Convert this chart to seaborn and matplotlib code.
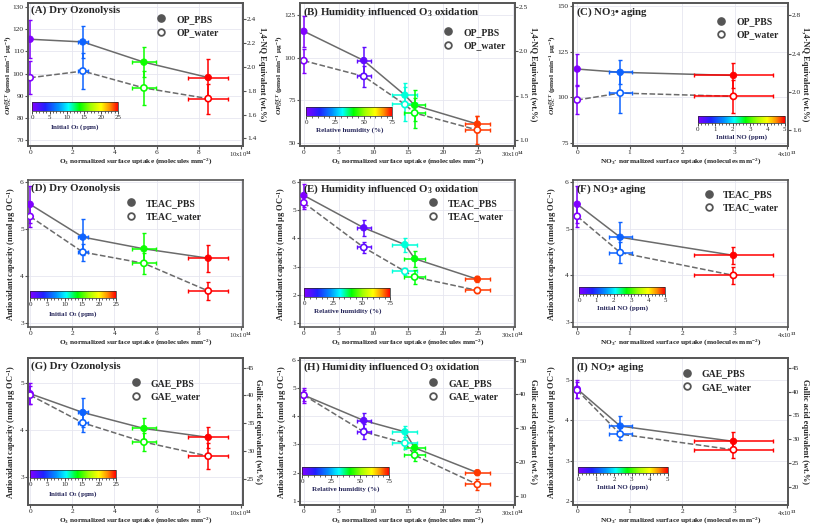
import numpy as np
import matplotlib
matplotlib.use('Agg')
import matplotlib.pyplot as plt
import seaborn as sns
from matplotlib.colors import LinearSegmentedColormap, Normalize
from matplotlib.cm import ScalarMappable
from matplotlib.lines import Line2D
from matplotlib.transforms import blended_transform_factory

sns.set_theme(style='ticks')
plt.rcParams['font.family'] = ['Liberation Serif', 'DejaVu Serif']
plt.rcParams['mathtext.fontset'] = 'custom'
plt.rcParams['mathtext.rm'] = 'Liberation Serif:bold'
plt.rcParams['mathtext.it'] = 'Liberation Serif:italic:bold'
plt.rcParams['mathtext.bf'] = 'Liberation Serif:bold'

# ---- data ----
# x: normalized surface uptake, xerr, colour value (initial O3 / RH / NO)
x_o3 = [0, 2.5, 5.4, 8.45]
xerr_o3 = [0, 0.25, 0.55, 0.95]
c_o3 = [0, 6, 14, 25]

x_rh = [0, 8.6, 14.5, 15.9, 24.9]
xerr_rh = [0, 1.0, 1.8, 1.5, 1.8]
c_rh = [0, 4, 33, 41, 72]

x_no3 = [0, 0.82, 2.98]
xerr_no3 = [0, 0.22, 0.75]
c_no = [0, 1.2, 5]

# OP DTT
op_pbs_a = [115.5, 114.3, 105.2, 98.3]
op_pbs_a_err = [8.6, 7.3, 6.6, 8.1]
op_wat_a = [98.2, 101.2, 93.6, 88.8]
op_wat_a_err = [7.3, 7.9, 7.6, 6.8]

op_pbs_b = [115.5, 98.3, 78.0, 72.0, 61.0]
op_pbs_b_err = [9.0, 8.0, 7.0, 9.0, 4.5]
op_wat_b = [98.2, 89.0, 72.5, 67.5, 57.5]
op_wat_b_err = [7.0, 6.0, 10.0, 9.0, 8.0]

op_pbs_c = [115.5, 113.7, 112.0]
op_pbs_c_err = [8.5, 6.5, 7.0]
op_wat_c = [98.5, 102.3, 100.5]
op_wat_c_err = [7.5, 11.0, 9.0]

# TEAC
teac_pbs_d = [5.53, 4.83, 4.58, 4.38]
teac_pbs_d_err = [0.40, 0.38, 0.33, 0.29]
teac_wat_d = [5.27, 4.51, 4.27, 3.68]
teac_wat_d_err = [0.22, 0.18, 0.22, 0.19]

teac_pbs_e = [5.53, 4.38, 3.78, 3.28, 2.55]
teac_pbs_e_err = [0.40, 0.28, 0.25, 0.28, 0.10]
teac_wat_e = [5.27, 3.68, 2.83, 2.63, 2.15]
teac_wat_e_err = [0.22, 0.18, 0.12, 0.24, 0.10]

teac_pbs_f = [5.53, 4.82, 4.43]
teac_pbs_f_err = [0.40, 0.33, 0.19]
teac_wat_f = [5.27, 4.49, 4.00]
teac_wat_f_err = [0.22, 0.22, 0.18]

# GAE
gae_pbs_g = [4.78, 4.38, 4.04, 3.85]
gae_pbs_g_err = [0.23, 0.30, 0.22, 0.23]
gae_wat_g = [4.75, 4.16, 3.75, 3.45]
gae_wat_g_err = [0.20, 0.20, 0.20, 0.28]

gae_pbs_h = [4.75, 3.85, 3.45, 2.88, 2.00]
gae_pbs_h_err = [0.27, 0.25, 0.20, 0.15, 0.08]
gae_wat_h = [4.75, 3.45, 3.05, 2.62, 1.58]
gae_wat_h_err = [0.20, 0.27, 0.20, 0.22, 0.20]

gae_pbs_i = [4.78, 3.86, 3.48]
gae_pbs_i_err = [0.23, 0.25, 0.23]
gae_wat_i = [4.75, 3.66, 3.27]
gae_wat_i_err = [0.20, 0.15, 0.20]

cmap = LinearSegmentedColormap.from_list('origin_rainbow', [
    (0.0, '#8000ff'), (0.15, '#2020ff'), (0.3, '#0090ff'), (0.42, '#00ffff'),
    (0.55, '#00ff00'), (0.68, '#a0ff00'), (0.8, '#ffff00'), (0.9, '#ff9000'),
    (1.0, '#ff0000')])

FW, FH = 813, 527
fig = plt.figure(figsize=(FW / 100, FH / 100), dpi=100)

col_left = [28, 300, 573]
row_tb = [(3, 146), (180, 327), (358, 505)]
AXW = 215

LINE_C = '#6b6b6b'
FRAME_C = '#555555'

# x-axis setup per column
xcfg = [
    dict(x=x_o3, xerr=xerr_o3, c=c_o3, norm=Normalize(0, 25), xlim=(-0.1, 10.1),
         xticks=[0, 2, 4, 6, 8, 10], exp=14, cticks=[0, 5, 10, 15, 20, 25],
         clabel='Initial O$_3$ (ppm)',
         xlabel='O$_3$ normalized surface uptake (molecules mm$^{-2}$)'),
    dict(x=x_rh, xerr=xerr_rh, c=c_rh, norm=Normalize(0, 75), xlim=(-0.55, 30.3),
         xticks=[0, 5, 10, 15, 20, 25, 30], exp=14, cticks=[0, 25, 50, 75],
         clabel='Relative humidity (%)',
         xlabel='O$_3$ normalized surface uptake (molecules mm$^{-2}$)'),
    dict(x=x_no3, xerr=xerr_no3, c=c_no, norm=Normalize(0, 5), xlim=(-0.08, 4.02),
         xticks=[0, 1, 2, 3, 4], exp=13, cticks=[0, 1, 2, 3, 4, 5],
         clabel='Initial NO (ppm)',
         xlabel='NO$_3$· normalized surface uptake (molecules mm$^{-2}$)'),
]

op_label = r'$\mathit{OP}_{\mathit{OC}}^{\mathit{DTT}}$ (pmol min$^{-1}$ μg$^{-1}$)'
ao_label = 'Antioxidant capacity (nmol μg OC$^{-1}$)'
nq_label = '1,4-NQ Equivalent (wt.%)'
ga_label = 'Gallic acid equivalent (wt.%)'

panels = [
    # row 0
    dict(r=0, c=0, title='(A) Dry Ozonolysis', pbs=op_pbs_a, pe=op_pbs_a_err, wat=op_wat_a, we=op_wat_a_err,
         names=('OP_PBS', 'OP_water'), ylim=(67.5, 131.8), yticks=[70, 80, 90, 100, 110, 120, 130],
         ylabel=op_label, ylx=-0.066, ylfs=5.3,
         r_ylim=(1.336, 2.536), r_ticks=[1.4, 1.6, 1.8, 2.0, 2.2, 2.4], r_label=nq_label, rlx=1.07,
         leg=(0.62, 0.875), cb=[0.02, 0.243, 0.40, 0.063]),
    dict(r=0, c=1, title='(B) Humidity influenced O$_3$ oxidation', pbs=op_pbs_b, pe=op_pbs_b_err, wat=op_wat_b, we=op_wat_b_err,
         names=('OP_PBS', 'OP_water'), ylim=(48.1, 132.1), yticks=[50, 75, 100, 125],
         ylabel=op_label, ylx=-0.07, ylfs=5.3,
         r_ylim=(0.9375, 2.544), r_ticks=[1.0, 1.5, 2.0, 2.5], r_label=nq_label, rlx=1.065,
         leg=(0.69, 0.785), cb=[0.03, 0.21, 0.40, 0.06]),
    dict(r=0, c=2, title='(C) NO$_3$• aging', pbs=op_pbs_c, pe=op_pbs_c_err, wat=op_wat_c, we=op_wat_c_err,
         names=('OP_PBS', 'OP_water'), ylim=(73.2, 151.8), yticks=[75, 100, 125, 150],
         ylabel=op_label, ylx=-0.07, ylfs=5.3,
         r_ylim=(1.43, 2.93), r_ticks=[1.6, 2.0, 2.4, 2.8], r_label=nq_label, rlx=1.06,
         leg=(0.69, 0.86), cb=[0.58, 0.16, 0.405, 0.05]),
    # row 1
    dict(r=1, c=0, title='(D) Dry Ozonolysis', pbs=teac_pbs_d, pe=teac_pbs_d_err, wat=teac_wat_d, we=teac_wat_d_err,
         names=('TEAC_PBS', 'TEAC_water'), ylim=(2.91, 6.05), yticks=[3, 4, 5, 6],
         ylabel=ao_label, ylx=-0.045, ylfs=6.0,
         leg=(0.48, 0.83), cb=[0.01, 0.197, 0.40, 0.048]),
    dict(r=1, c=1, title='(E) Humidity influenced O$_3$ oxidation', pbs=teac_pbs_e, pe=teac_pbs_e_err, wat=teac_wat_e, we=teac_wat_e_err,
         names=('TEAC_PBS', 'TEAC_water'), ylim=(0.85, 6.08), yticks=[1, 2, 3, 4, 5, 6],
         ylabel=ao_label, ylx=-0.058, ylfs=6.0,
         leg=(0.62, 0.83), cb=[0.02, 0.204, 0.40, 0.06]),
    dict(r=1, c=2, title='(F) NO$_3$• aging', pbs=teac_pbs_f, pe=teac_pbs_f_err, wat=teac_wat_f, we=teac_wat_f_err,
         names=('TEAC_PBS', 'TEAC_water'), ylim=(2.89, 6.05), yticks=[3, 4, 5, 6],
         ylabel=ao_label, ylx=-0.065, ylfs=6.0,
         leg=(0.63, 0.89), cb=[0.03, 0.224, 0.40, 0.046]),
    # row 2
    dict(r=2, c=0, title='(G) Dry Ozonolysis', pbs=gae_pbs_g, pe=gae_pbs_g_err, wat=gae_wat_g, we=gae_wat_g_err,
         names=('GAE_PBS', 'GAE_water'), ylim=(2.41, 5.54), yticks=[3, 4, 5],
         ylabel=ao_label, ylx=-0.048, ylfs=6.0,
         r_ylim=(20.4, 46.7), r_ticks=[25, 30, 35, 40, 45], r_label=ga_label, rlx=1.05,
         leg=(0.50, 0.816), cb=[0.01, 0.184, 0.40, 0.054]),
    dict(r=2, c=1, title='(H) Humidity influenced O$_3$ oxidation', pbs=gae_pbs_h, pe=gae_pbs_h_err, wat=gae_wat_h, we=gae_wat_h_err,
         names=('GAE_PBS', 'GAE_water'), ylim=(0.85, 6.07), yticks=[1, 2, 3, 4, 5, 6],
         ylabel=ao_label, ylx=-0.052, ylfs=6.0,
         r_ylim=(7.3, 50.8), r_ticks=[10, 20, 30, 40, 50], r_label=ga_label, rlx=1.065,
         leg=(0.62, 0.816), cb=[0.01, 0.204, 0.405, 0.054]),
    dict(r=2, c=2, title='(I) NO$_3$• aging', pbs=gae_pbs_i, pe=gae_pbs_i_err, wat=gae_wat_i, we=gae_wat_i_err,
         names=('GAE_PBS', 'GAE_water'), ylim=(1.9, 5.55), yticks=[2, 3, 4, 5],
         ylabel=ao_label, ylx=-0.065, ylfs=6.0,
         r_ylim=(16.1, 47.1), r_ticks=[20, 25, 30, 35, 40, 45], r_label=ga_label, rlx=1.06,
         leg=(0.53, 0.88), cb=[0.025, 0.218, 0.415, 0.042]),
]


def style_axis(a):
    a.tick_params(direction='out', length=2.0, width=0.8, labelsize=5.3, pad=1.0, color=FRAME_C)
    for s in a.spines.values():
        s.set_color(FRAME_C)
        s.set_linewidth(1.2)


def draw_panel(p):
    xc = xcfg[p['c']]
    top, bot = row_tb[p['r']]
    left = col_left[p['c']]
    ax = fig.add_axes([left / FW, 1 - bot / FH, AXW / FW, (bot - top) / FH])
    x, xerr, cv, norm = xc['x'], xc['xerr'], xc['c'], xc['norm']
    cols = [cmap(norm(v)) for v in cv]

    sns.lineplot(x=x, y=p['pbs'], ax=ax, color=LINE_C, lw=1.1, sort=False, estimator=None, zorder=2)
    sns.lineplot(x=x, y=p['wat'], ax=ax, color=LINE_C, lw=1.1, ls='--', sort=False, estimator=None, zorder=2)

    for yy, ee in ((p['pbs'], p['pe']), (p['wat'], p['we'])):
        for xi, xe, yi, ye, col in zip(x, xerr, yy, ee, cols):
            ax.errorbar(xi, yi, xerr=xe if xe > 0 else None, yerr=ye, fmt='none', ecolor=col,
                        elinewidth=1.1, capsize=1.7, capthick=1.0, zorder=3)

    sns.scatterplot(x=x, y=p['pbs'], ax=ax, hue=cv, palette=cmap, hue_norm=norm, s=22,
                    edgecolor=cols, linewidth=0.6, legend=False, zorder=5)
    sns.scatterplot(x=x, y=p['wat'], ax=ax, color='white', edgecolor=cols, s=20,
                    linewidth=1.2, legend=False, zorder=5)

    ax.set_xlim(*xc['xlim'])
    ax.set_xticks(xc['xticks'])
    xl = [str(t) for t in xc['xticks']]
    xl[-1] = ''
    ax.set_xticklabels(xl)
    axh = bot - top
    trans = blended_transform_factory(ax.transData, ax.transAxes)
    ax.text(xc['xticks'][-1], -3.5 / axh, f"{xc['xticks'][-1]}x10$^{{{xc['exp']}}}$",
            transform=trans, ha='center', va='top', fontsize=4.8, fontweight='normal')
    ax.set_ylim(*p['ylim'])
    ax.set_yticks(p['yticks'])
    ax.grid(True, color='#e6e6f0', lw=0.6)
    ax.set_axisbelow(True)
    style_axis(ax)
    ax.set_xlabel(xc['xlabel'], fontsize=5.3, fontweight='bold', va='center')
    ax.xaxis.set_label_coords(0.5, -15.0 / axh)
    ax.set_ylabel(p['ylabel'], fontsize=p['ylfs'], fontweight='bold')
    ax.yaxis.set_label_coords(p['ylx'], 0.5)

    ax.text(0.012, 0.98, p['title'], transform=ax.transAxes, ha='left', va='top',
            fontsize=7.8, fontweight='bold', zorder=10)

    handles = [Line2D([], [], marker='o', ls='none', mfc='#555555', mec='#555555', ms=5.2),
               Line2D([], [], marker='o', ls='none', mfc='white', mec='#555555', mew=1.3, ms=4.8)]
    mx, my = p['leg']
    ax.legend(handles, p['names'], loc='upper left', bbox_to_anchor=(mx - 0.022, my + 0.042),
              frameon=False, borderpad=0, borderaxespad=0, handlelength=1.0, handletextpad=1.0,
              labelspacing=0.45, prop=dict(size=7, weight='bold'))

    # inset colour bar
    cax = ax.inset_axes(p['cb'])
    cb = fig.colorbar(ScalarMappable(norm=norm, cmap=cmap), cax=cax, orientation='horizontal')
    cb.set_ticks(xc['cticks'])
    cb.minorticks_on()
    cb.outline.set_linewidth(0.5)
    cax.tick_params(which='major', labelsize=5, length=2, width=0.6, pad=1)
    cax.tick_params(which='minor', length=1.2, width=0.5)
    cb.set_label(xc['clabel'], fontsize=5, fontweight='bold', color='#26265a', labelpad=1.5)

    if 'r_ylim' in p:
        ax2 = ax.twinx()
        ax2.set_ylim(*p['r_ylim'])
        ax2.set_yticks(p['r_ticks'])
        style_axis(ax2)
        ax2.set_ylabel(p['r_label'], rotation=270, va='bottom', fontsize=6.0, fontweight='bold')
        ax2.yaxis.set_label_coords(p['rlx'], 0.5)
    return ax


for p in panels:
    draw_panel(p)

fig.savefig('out.png', dpi=100)
